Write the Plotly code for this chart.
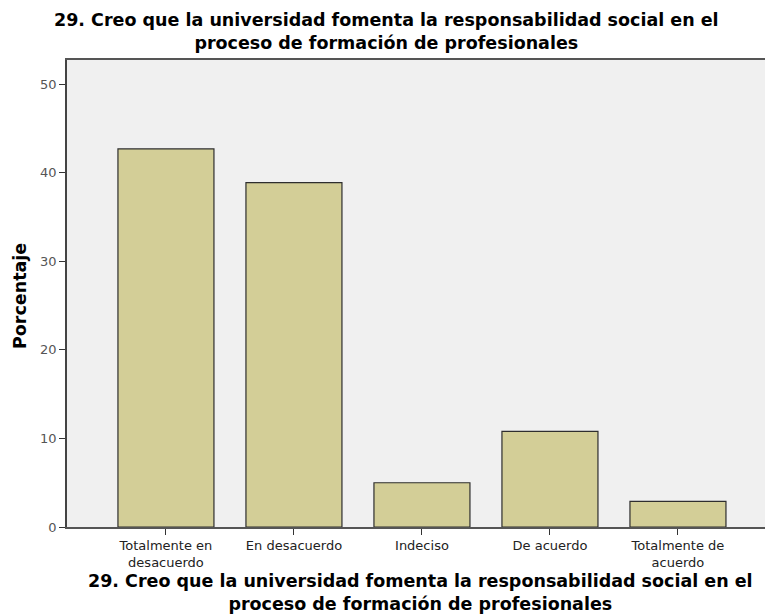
import plotly.graph_objects as go

categories = ["Totalmente en<br>desacuerdo", "En desacuerdo", "Indeciso", "De acuerdo", "Totalmente de<br>acuerdo"]
percentages = [42.7, 38.9, 5.0, 10.8, 2.9]
y_ticks = [0, 10, 20, 30, 40, 50]

title_text = "29. Creo que la universidad fomenta la responsabilidad social en el<br>proceso de formación de profesionales"
y_title = "Porcentaje"

W, H = 765, 614
L, R, T, B = 67, 0, 60, 87
PW, PH = W - L - R, H - T - B


def px_x(px):
    return (px - L) / PW


def px_y(py):
    return (H - B - py) / PH


fig = go.Figure(
    go.Bar(
        x=categories,
        y=percentages,
        width=0.75,
        marker=dict(color="#d3ce97", line=dict(color="#2e2e2e", width=1.2)),
        hoverinfo="x+y",
    )
)

title_font = dict(size=17.5, family="DejaVu Sans", color="#000", weight="bold")
annotations = [
    # top title
    dict(text=title_text, xref="paper", yref="paper",
         x=px_x(386), y=px_y(32), xanchor="center", yanchor="middle",
         showarrow=False, font=title_font),
    # x-axis title
    dict(text=title_text, xref="paper", yref="paper",
         x=px_x(420), y=px_y(592), xanchor="center", yanchor="middle",
         showarrow=False, font=title_font),
    # y-axis title
    dict(text=y_title, xref="paper", yref="paper",
         x=px_x(20), y=px_y(296), textangle=-90,
         xanchor="center", yanchor="middle", showarrow=False,
         font=dict(size=17.5, family="DejaVu Sans", color="#000", weight="bold")),
]

fig.update_layout(
    width=W,
    height=H,
    paper_bgcolor="white",
    plot_bgcolor="#f0f0f0",
    margin=dict(l=L, r=R, t=T, b=B, autoexpand=False),
    font=dict(family="DejaVu Sans", color="#222"),
    showlegend=False,
    annotations=annotations,
)

fig.update_xaxes(
    range=[-0.773, 4.68],
    automargin=False,
    showline=True,
    linecolor="#555",
    linewidth=1.5,
    mirror=True,
    ticks="outside",
    ticklen=6,
    tickcolor="#333",
    tickfont=dict(size=13, color="#222"),
    showgrid=False,
)

fig.update_yaxes(
    range=[0, 52.74],
    automargin=False,
    tickvals=y_ticks,
    showline=True,
    linecolor="#444",
    linewidth=1.5,
    ticks="outside",
    ticklen=6,
    tickcolor="#333",
    tickfont=dict(size=13, color="#555"),
    showgrid=False,
    zeroline=False,
)

fig.write_html(
    "out.html",
    config={"displayModeBar": False},
    post_script="document.body.style.margin='0px';document.body.style.overflow='hidden';",
)
